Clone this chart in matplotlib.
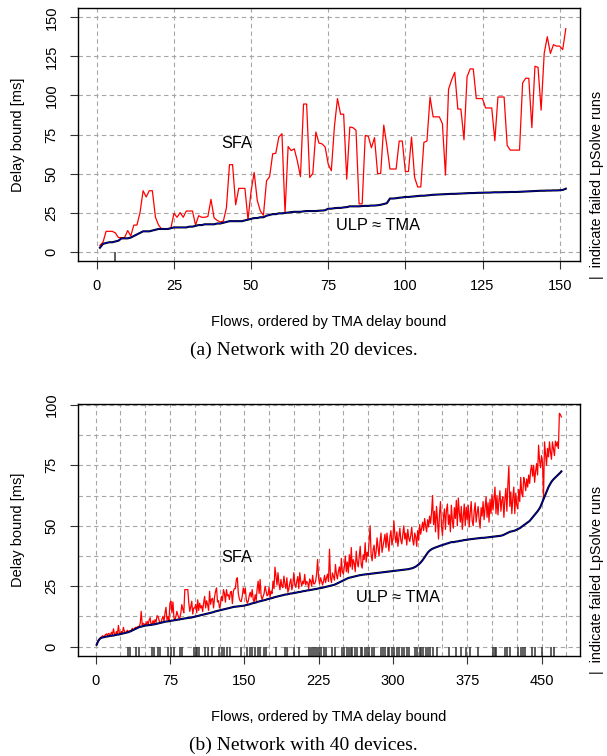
import matplotlib
matplotlib.use("Agg")
import matplotlib.pyplot as plt
from matplotlib.ticker import MultipleLocator

plt.rcParams["font.family"] = ["Liberation Sans", "DejaVu Sans"]

# ------------------------------------------------------------
# (a) 20 devices: delay bounds per flow (flows 1..152), in ms
# ------------------------------------------------------------
sfa_20 = [
    4, 6, 13, 13, 13, 12, 9, 9, 9, 13.5,
    10, 17, 17, 25, 39, 35, 39, 39, 22, 17,
    14.5, 14.5, 14.5, 15, 24.5, 22, 25, 22, 26, 26,
    26, 17, 23, 22, 22, 22.5, 33.5, 21.6, 20, 19,
    19.5, 28, 55.7, 55.7, 30, 40.5, 40.5, 40.5, 20.5, 38.8,
    50.7, 32.8, 26, 23.3, 45.3, 48, 62.6, 63, 73.4, 75.5,
    24.8, 67.3, 64.7, 65.8, 58, 48, 94.5, 94.5, 47.5, 50,
    76.6, 69.5, 69, 67, 56, 51.8, 80, 98, 88, 88,
    46.4, 79.8, 79.4, 77.7, 30.6, 30.6, 74.4, 73.8, 66.5, 73,
    50, 50, 81, 68, 52.9, 52.9, 52.9, 70.8, 70.8, 51.3,
    51.3, 73.4, 47.5, 41.4, 41.4, 70, 70.8, 99, 86.3, 86.3,
    86.3, 82, 49, 104, 110, 114.8, 91.3, 91.3, 71.6, 112,
    117, 117, 98, 98, 98, 92, 92, 92, 71, 99,
    99, 99, 68, 65, 65, 65, 65, 108, 111, 111,
    79.4, 118.7, 118, 90.6, 127, 137.6, 126.9, 132.5, 131.6, 131.6,
    129.4, 142.8,
]
tma_20 = [
    2.5, 5, 5.5, 6, 6, 6.5, 7, 8.5, 8.5, 8.5,
    9, 10, 11, 12, 13, 13, 13, 13.5, 14, 14.5,
    14.5, 14.5, 14.5, 15, 15.5, 15.5, 15.5, 15.5, 15.5, 16,
    16, 16.5, 17, 17, 17.5, 17.5, 17.5, 17.5, 18, 18,
    18.5, 19, 19.5, 19.5, 19.5, 19.5, 19.5, 20, 20.5, 21,
    21.5, 21.5, 22, 22, 23, 23.5, 24, 24, 24.5, 24.5,
    24.8, 25, 25.3, 25.5, 25.5, 25.5, 25.8, 26, 26, 26,
    26, 26.2, 26.3, 26.5, 27.5, 27.5, 27.8, 28, 28, 28.3,
    28.5, 29, 29, 29, 29, 29.2, 29.3, 29.3, 29.5, 29.5,
    29.7, 30, 30.5, 31, 34, 34, 34.2, 34.5, 34.7, 35,
    35, 35.2, 35.4, 35.6, 35.8, 35.8, 36, 36.2, 36.4, 36.5,
    36.6, 36.7, 36.8, 36.9, 37, 37, 37.1, 37.2, 37.3, 37.4,
    37.5, 37.5, 37.6, 37.7, 37.7, 37.8, 37.8, 37.9, 38, 38,
    38, 38.1, 38.1, 38.2, 38.2, 38.2, 38.3, 38.4, 38.5, 38.6,
    38.7, 38.8, 38.9, 39, 39, 39.1, 39.1, 39.2, 39.2, 39.3,
    39.5, 40.3,
]
ulp_20 = list(tma_20)          # ULP ~ TMA, indistinguishable at this scale
failed_20 = [6]

# ------------------------------------------------------------
# (b) 40 devices: delay bounds per flow (flows 1..470), in ms
# ------------------------------------------------------------
sfa_40 = [
    0.9, 1.9, 2.8, 3.3, 3.8, 4.0, 4.5, 4.2, 4.4, 5.0,
    5.3, 4.6, 5.5, 5.2, 4.8, 6.0, 5.0, 7.4, 5.2, 4.9,
    6.3, 5.2, 8.8, 5.5, 5.4, 6.3, 5.6, 8.0, 6.4, 5.7,
    6.0, 6.8, 6.1, 6.5, 6.6, 6.6, 7.6, 7.0, 7.3, 8.0,
    7.8, 8.1, 8.3, 8.4, 9.6, 14.6, 9.0, 9.7, 8.8, 9.5,
    9.2, 10.5, 9.1, 11.0, 12.0, 9.0, 9.5, 10.8, 9.4, 11.2,
    10.0, 12.8, 12.5, 11.0, 9.8, 9.9, 11.5, 12.6, 10.5, 13.9,
    16.3, 11.0, 12.4, 10.8, 18.0, 18.8, 14.0, 18.5, 12.0, 11.0,
    12.5, 14.6, 13.0, 11.8, 12.0, 14.0, 17.4, 15.5, 14.0, 23.6,
    23.6, 23.6, 23.6, 18.0, 14.6, 16.5, 18.8, 13.5, 16.0, 16.0,
    17.5, 14.0, 19.4, 15.0, 18.0, 16.0, 17.0, 14.5, 18.2, 20.8,
    16.0, 19.0, 17.4, 15.0, 22.9, 17.5, 19.6, 20.0, 16.0, 20.5,
    22.9, 24.3, 18.5, 19.0, 16.0, 17.5, 20.8, 19.0, 23.6, 22.0,
    18.4, 23.6, 21.0, 21.5, 19.5, 22.5, 22.9, 17.8, 22.9, 24.0,
    24.0, 27.8, 28.5, 22.0, 19.8, 18.8, 18.7, 21.0, 24.3, 22.0,
    24.3, 19.5, 18.0, 18.8, 21.0, 22.5, 20.5, 23.6, 19.5, 18.5,
    21.5, 19.0, 24.0, 27.1, 22.0, 27.8, 21.0, 19.5, 20.8, 22.0,
    25.0, 22.9, 21.0, 21.5, 24.6, 20.5, 23.0, 22.0, 27.1, 24.0,
    32.9, 29.0, 25.5, 30.6, 26.0, 23.5, 27.8, 25.0, 24.5, 29.2,
    26.0, 24.0, 28.5, 22.5, 24.0, 26.4, 28.0, 23.5, 25.5, 30.6,
    26.0, 24.5, 27.1, 29.0, 24.0, 30.6, 27.0, 25.0, 27.1, 26.0,
    29.9, 25.5, 27.0, 26.4, 24.0, 28.0, 27.1, 25.0, 29.5, 26.0,
    26.0, 27.1, 30.0, 36.1, 28.5, 26.0, 28.5, 27.1, 25.5, 27.1,
    29.5, 26.5, 28.5, 30.0, 27.0, 40.3, 28.5, 26.5, 30.5, 29.0,
    27.5, 34.0, 30.0, 28.0, 31.2, 33.0, 29.0, 36.5, 31.0, 30.0,
    33.0, 37.5, 31.0, 35.0, 30.5, 38.0, 33.0, 41.0, 32.0, 36.0,
    34.5, 31.0, 39.5, 35.0, 33.0, 37.5, 41.5, 34.0, 32.5, 38.0,
    36.0, 43.0, 35.0, 39.0, 37.5, 44.0, 50.0, 38.0, 35.5, 40.0,
    42.0, 36.5, 39.0, 45.0, 41.0, 37.5, 43.5, 47.0, 39.0, 41.5,
    44.0, 46.5, 41.0, 47.0, 43.0, 39.5, 45.5, 48.0, 42.0, 44.5,
    52.0, 46.0, 43.0, 47.5, 41.5, 45.0, 49.0, 44.0, 42.5, 46.5,
    50.0, 44.5, 47.0, 42.0, 48.5, 45.0, 43.5, 46.0, 49.5, 44.0,
    42.0, 47.0, 45.5, 41.5, 48.0, 44.0, 50.5, 46.5, 49.0, 51.5,
    48.0, 53.0, 50.0, 47.5, 52.5, 49.5, 54.0, 51.0, 55.5, 62.5,
    50.5, 56.0, 47.5, 58.0, 52.5, 44.5, 55.0, 60.0, 50.0, 46.0,
    53.5, 57.0, 48.5, 56.5, 59.0, 50.5, 54.5, 47.5, 58.5, 52.0,
    49.0, 57.5, 53.0, 60.5, 50.0, 61.5, 55.5, 51.5, 58.0, 48.5,
    54.0, 59.0, 50.0, 57.7, 52.5, 58.5, 49.5, 55.5, 60.0, 52.0,
    50.0, 56.0, 59.5, 51.5, 55.3, 58.0, 52.5, 49.0, 57.5, 54.0,
    60.0, 52.5, 57.5, 62.0, 53.5, 59.5, 51.5, 61.0, 55.0, 63.0,
    56.5, 61.5, 66.0, 55.0, 62.5, 54.5, 60.5, 64.5, 56.0, 60.5,
    62.0, 53.5, 61.0, 65.5, 56.0, 67.0, 74.6, 58.0, 64.0, 55.0,
    61.5, 66.0, 55.0, 63.5, 58.5, 57.0, 65.0, 60.0, 70.0, 63.5,
    62.0, 70.0, 68.0, 64.5, 69.4, 66.0, 71.0, 67.5, 73.0, 75.0,
    70.5, 75.0, 68.0, 72.5, 75.7, 71.0, 83.3, 77.0, 74.0, 79.0,
    76.0, 62.0, 84.7, 80.0, 75.0, 82.0, 78.5, 84.7, 80.5, 77.5,
    84.7, 82.0, 79.0, 85.0, 83.0, 84.7, 82.0, 96.5, 96.0, 95.0,
]
tma_40 = [
    0.8, 1.8, 2.6, 3.1, 3.5, 3.7, 3.8, 3.9, 4.0, 4.1,
    4.2, 4.2, 4.3, 4.4, 4.5, 4.5, 4.6, 4.6, 4.7, 4.8,
    4.9, 5.0, 5.0, 5.1, 5.2, 5.3, 5.4, 5.5, 5.6, 5.7,
    5.8, 5.9, 6.0, 6.2, 6.3, 6.5, 6.7, 6.9, 7.1, 7.3,
    7.5, 7.7, 7.9, 8.1, 8.2, 8.3, 8.4, 8.5, 8.6, 8.7,
    8.8, 8.8, 8.9, 8.9, 9.0, 9.0, 9.1, 9.2, 9.2, 9.3,
    9.4, 9.5, 9.6, 9.7, 9.8, 9.9, 10.0, 10.1, 10.2, 10.3,
    10.4, 10.4, 10.5, 10.5, 10.6, 10.7, 10.8, 10.8, 10.9, 11.0,
    11.0, 11.1, 11.2, 11.2, 11.3, 11.4, 11.5, 11.5, 11.6, 11.7,
    11.7, 11.8, 11.9, 11.9, 12.0, 12.0, 12.1, 12.2, 12.3, 12.4,
    12.5, 12.6, 12.7, 12.8, 12.9, 13.0, 13.1, 13.2, 13.3, 13.4,
    13.5, 13.6, 13.7, 13.8, 13.9, 14.0, 14.1, 14.2, 14.3, 14.5,
    14.6, 14.7, 14.8, 14.9, 15.0, 15.1, 15.2, 15.3, 15.4, 15.5,
    15.6, 15.7, 15.8, 15.9, 16.0, 16.1, 16.2, 16.3, 16.4, 16.5,
    16.5, 16.6, 16.6, 16.7, 16.7, 16.8, 16.8, 16.9, 16.9, 17.0,
    17.1, 17.2, 17.3, 17.4, 17.5, 17.6, 17.8, 17.9, 18.0, 18.1,
    18.2, 18.3, 18.5, 18.6, 18.7, 18.8, 18.9, 19.0, 19.1, 19.2,
    19.3, 19.4, 19.6, 19.7, 19.8, 19.9, 20.0, 20.1, 20.2, 20.4,
    20.5, 20.6, 20.7, 20.8, 20.9, 21.0, 21.1, 21.2, 21.3, 21.4,
    21.5, 21.6, 21.6, 21.7, 21.8, 21.9, 22.0, 22.0, 22.1, 22.2,
    22.3, 22.3, 22.4, 22.5, 22.6, 22.6, 22.7, 22.8, 22.9, 23.0,
    23.0, 23.1, 23.2, 23.3, 23.3, 23.4, 23.5, 23.5, 23.6, 23.7,
    23.8, 23.8, 23.9, 24.0, 24.1, 24.2, 24.2, 24.3, 24.4, 24.5,
    24.6, 24.7, 24.8, 24.9, 25.0, 25.1, 25.2, 25.3, 25.4, 25.5,
    25.6, 25.8, 26.0, 26.2, 26.4, 26.6, 26.8, 27.0, 27.2, 27.4,
    27.6, 27.8, 28.0, 28.2, 28.4, 28.5, 28.6, 28.7, 28.8, 28.9,
    29.0, 29.1, 29.2, 29.3, 29.4, 29.5, 29.6, 29.6, 29.7, 29.8,
    29.8, 29.9, 29.9, 30.0, 30.0, 30.1, 30.1, 30.2, 30.2, 30.3,
    30.3, 30.4, 30.4, 30.5, 30.5, 30.6, 30.6, 30.7, 30.7, 30.8,
    30.8, 30.9, 30.9, 31.0, 31.0, 31.1, 31.1, 31.2, 31.2, 31.3,
    31.3, 31.4, 31.4, 31.5, 31.5, 31.6, 31.6, 31.7, 31.7, 31.8,
    31.8, 31.9, 31.9, 32.0, 32.0, 32.1, 32.2, 32.3, 32.4, 32.5,
    32.7, 32.9, 33.1, 33.4, 33.7, 34.0, 34.4, 34.8, 35.3, 35.8,
    36.4, 37.0, 37.6, 38.2, 38.8, 39.3, 39.7, 40.0, 40.3, 40.5,
    40.7, 40.9, 41.0, 41.2, 41.3, 41.5, 41.6, 41.8, 41.9, 42.0,
    42.2, 42.3, 42.4, 42.6, 42.7, 42.8, 43.0, 43.1, 43.2, 43.3,
    43.2, 43.3, 43.4, 43.5, 43.5, 43.6, 43.7, 43.8, 43.8, 43.9,
    44.0, 44.1, 44.1, 44.2, 44.2, 44.3, 44.4, 44.4, 44.5, 44.5,
    44.6, 44.6, 44.7, 44.7, 44.8, 44.8, 44.9, 44.9, 45.0, 45.0,
    45.0, 45.0, 45.1, 45.1, 45.2, 45.2, 45.3, 45.3, 45.4, 45.4,
    45.5, 45.5, 45.6, 45.6, 45.7, 45.7, 45.8, 45.8, 45.9, 46.0,
    46.1, 46.3, 46.5, 46.7, 46.9, 47.1, 47.3, 47.5, 47.6, 47.7,
    47.8, 47.9, 48.0, 48.2, 48.4, 48.6, 48.8, 49.0, 49.3, 49.6,
    49.9, 50.2, 50.5, 50.8, 51.1, 51.4, 51.7, 52.0, 52.5, 53.0,
    53.5, 54.0, 54.5, 55.0, 55.5, 56.0, 56.6, 57.2, 58.0, 59.0,
    60.0, 61.0, 62.0, 63.0, 64.0, 65.0, 66.0, 66.8, 67.5, 68.2,
    68.7, 69.2, 69.6, 70.0, 70.4, 70.8, 71.2, 71.6, 72.0, 72.5,
]
ulp_40 = list(tma_40)
failed_40 = [
    33, 35, 41, 44, 57, 59, 63, 65, 73, 76, 79, 85, 87, 99, 101, 102, 104,
    110, 113, 117, 124, 128, 130, 133, 136, 147, 153, 156, 158, 161, 164,
    166, 170, 172, 182, 191, 193, 200, 205, 215, 217, 219, 221, 223, 225,
    227, 230, 232, 239, 242, 249, 251, 254, 256, 258, 259, 262, 264, 268,
    269, 272, 274, 276, 279, 281, 288, 290, 292, 295, 296, 299, 301, 304,
    306, 309, 311, 314, 316, 322, 324, 327, 328, 330, 333, 335, 337, 340,
    344, 357, 364, 369, 374, 378, 386, 401, 403, 404, 413, 415, 418, 426,
    429, 431, 433, 440, 443, 450, 460, 463,
]

xlabel = "Flows, ordered by TMA delay bound"
ylabel = "Delay bound [ms]"
rug_note = "|  indicate failed LpSolve runs"

fig = plt.figure(figsize=(6.07, 7.56), dpi=100)


def panel(rect, sfa, tma, ulp, failed, xlim, ylim, xstep, xgrid, ystep, ygrid,
          sfa_at, ulp_at, caption, caption_y):
    ax = fig.add_axes(rect)
    flows = list(range(1, len(sfa) + 1))

    ax.set_xlim(*xlim)
    ax.set_ylim(*ylim)
    ax.xaxis.set_major_locator(MultipleLocator(xstep))
    ax.xaxis.set_minor_locator(MultipleLocator(xgrid))
    ax.yaxis.set_major_locator(MultipleLocator(ystep))
    ax.yaxis.set_minor_locator(MultipleLocator(ygrid))
    ax.set_xticks([t for t in ax.get_xticks() if 0 <= t <= xlim[1] - 5])
    ax.set_yticks([t for t in ax.get_yticks() if 0 <= t <= ylim[1]])
    ax.set_xlim(*xlim)
    ax.set_ylim(*ylim)

    ax.grid(which="both", color="#a6a6a6", linestyle=(0, (4, 3)), linewidth=0.8)
    ax.set_axisbelow(True)
    ax.tick_params(which="minor", length=0)
    ax.tick_params(which="major", direction="out", length=6, width=0.8,
                   labelsize=10.5, color="#333333")
    ax.tick_params(axis="x", pad=7)
    ax.tick_params(axis="y", pad=8)
    for lab in ax.get_yticklabels():
        lab.set_rotation(90)
        lab.set_va("center")
    for sp in ax.spines.values():
        sp.set_linewidth(1.0)

    ax.plot(flows, sfa, color="#ff0000", lw=0.9)
    ax.plot(flows, tma, color="black", lw=1.5)
    ax.plot(flows, ulp, color="#0000ff", lw=0.6, alpha=0.85)
    ax.vlines(failed, 0, 0.035, transform=ax.get_xaxis_transform(),
              color="#333333", lw=1.1)

    ax.text(sfa_at[0], sfa_at[1], "SFA", fontsize=11.8, ha="center", va="center")
    ax.text(ulp_at[0], ulp_at[1], "ULP \u2248 TMA", fontsize=11.8, ha="center", va="center")

    ax.text(-0.1205, 0.5, ylabel, transform=ax.transAxes, rotation=90,
            ha="center", va="center", fontsize=10.5)
    ax.text(0.5, -0.243, xlabel, transform=ax.transAxes,
            ha="center", va="center", fontsize=10.5)
    ax.text(1.034, -0.07, rug_note, transform=ax.transAxes, rotation=90,
            ha="center", va="bottom", fontsize=10.4)
    fig.text(0.5, caption_y, caption, ha="center", va="center",
             fontsize=14, family=["Liberation Serif", "DejaVu Serif"])
    return ax


panel([78 / 607, 1 - 261 / 756, 502 / 607, 253 / 756],
      sfa_20, tma_20, ulp_20, failed_20,
      (-6.1, 156.6), (-6, 156), 25, 25, 25, 25,
      (45.4, 69.5), (91.2, 16.7), "(a) Network with 20 devices.", 1 - 350 / 756)

panel([78 / 607, 1 - 656 / 756, 502 / 607, 252 / 756],
      sfa_40, tma_40, ulp_40, failed_40,
      (-17.8, 488.8), (-3.86, 100.36), 75, 25, 25, 12.5,
      (142.7, 36.7), (305, 20.5), "(b) Network with 40 devices.", 1 - 745 / 756)

fig.savefig("out.png", dpi=100)
